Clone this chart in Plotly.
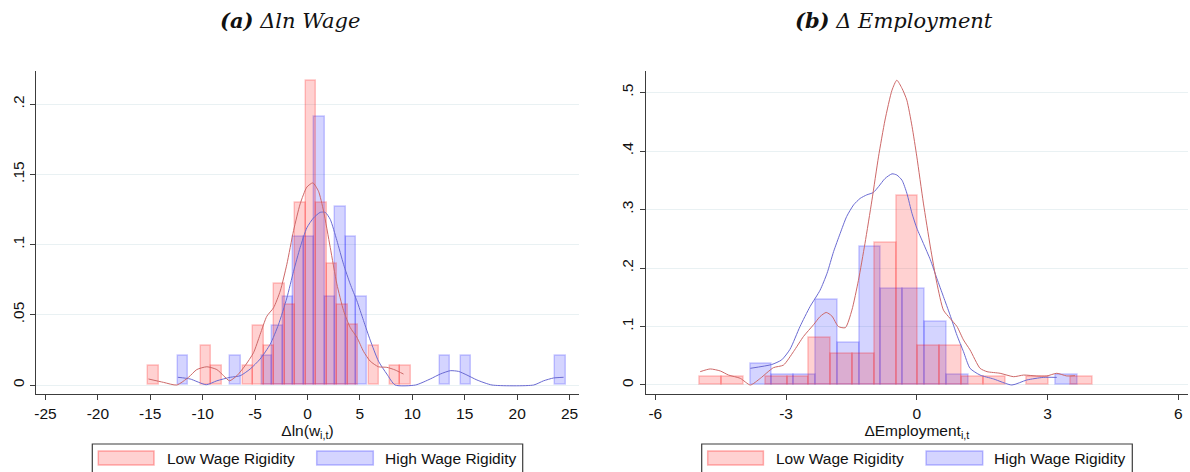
import plotly.graph_objects as go

# ---------------- data ----------------
# Panel (a): change in log wage, histogram bins of width 1
wage_bin_width = 1.0
wage_low_centers = [-14.67, -9.67, -8.67, -5.67, -4.67, -3.67, -2.67, -1.67, -0.67,
                    0.33, 1.33, 2.33, 3.33, 4.33, 6.33, 8.33, 9.33]
wage_low_heights = [0.0135, 0.028, 0.0135, 0.0135, 0.0423, 0.028, 0.072, 0.057, 0.1296,
                    0.2168, 0.1296, 0.0862, 0.057, 0.0427, 0.028, 0.0135, 0.0135]
wage_high_centers = [-11.87, -6.87, -3.87, -2.87, -1.87, -0.87, 0.13, 1.13, 2.13,
                     3.13, 4.13, 5.13, 13.13, 15.13, 24.13]
wage_high_heights = [0.021, 0.021, 0.021, 0.042, 0.063, 0.106, 0.106, 0.191, 0.063,
                     0.127, 0.106, 0.063, 0.021, 0.021, 0.021]

# kernel density curves, panel (a)
wage_low_kde_x = [-15.17, -13.74, -12.47, -11.35, -10.56, -9.6, -8.65, -8.0, -7.44, -6.74,
                  -5.95, -5.15, -4.52, -3.88, -3.24, -2.6, -1.97, -1.33, -0.7, -0.06,
                  0.51, 1.05, 1.53, 2.17, 2.8, 3.44, 4.07, 4.71, 5.34, 5.98,
                  6.77, 7.57, 8.36, 9.16]
wage_low_kde_y = [0.0043, 0.0019, 0.0, 0.0055, 0.011, 0.013, 0.011, 0.0066, 0.003, 0.0066,
                  0.0138, 0.023, 0.036, 0.049, 0.055, 0.067, 0.086, 0.11, 0.129, 0.141,
                  0.144, 0.138, 0.124, 0.098, 0.072, 0.053, 0.041, 0.034, 0.024, 0.017,
                  0.013, 0.0126, 0.0107, 0.0078]
wage_high_kde_x = [-12.37, -11.19, -9.66, -8.65, -7.37, -6.42, -5.47, -4.52, -3.56, -2.77,
                   -1.97, -1.33, -0.7, -0.06, 0.57, 1.21, 1.69, 2.17, 2.8, 3.44,
                   4.07, 4.71, 5.34, 5.98, 6.77, 7.57, 8.36, 10.3, 11.71, 12.66,
                   13.62, 14.41, 15.21, 16.16, 17.6, 21.57, 22.52, 23.47, 24.43]
wage_high_kde_y = [0.0055, 0.0043, 0.0002, 0.003, 0.0055, 0.0066, 0.0114, 0.0185, 0.029, 0.043,
                   0.062, 0.081, 0.098, 0.112, 0.119, 0.123, 0.123, 0.118, 0.103, 0.086,
                   0.072, 0.06, 0.046, 0.032, 0.017, 0.0078, 0.0, 0.0, 0.0043, 0.0078,
                   0.0102, 0.0097, 0.0071, 0.0036, 0.0, 0.0, 0.003, 0.005, 0.0055]

# Panel (b): change in employment, histogram bins of width 0.5
emp_bin_width = 0.5
emp_low_centers = [-4.72, -4.22, -3.22, -2.72, -2.22, -1.72, -1.22, -0.72, -0.22,
                   0.28, 0.78, 1.28, 1.78, 2.78, 3.78]
emp_low_heights = [0.0135, 0.0135, 0.0135, 0.0135, 0.081, 0.054, 0.054, 0.243, 0.324,
                   0.0676, 0.0676, 0.0135, 0.0135, 0.0135, 0.0135]
emp_high_centers = [-3.57, -3.07, -2.57, -2.07, -1.57, -1.07, -0.57, -0.07, 0.43, 0.93, 3.43]
emp_high_heights = [0.0364, 0.0182, 0.0182, 0.145, 0.0727, 0.236, 0.164, 0.164, 0.109,
                    0.0182, 0.0182]

emp_low_kde_x = [-4.97, -4.74, -4.51, -4.32, -4.05, -3.82, -3.59, -3.29, -3.06, -2.83,
                 -2.6, -2.37, -2.22, -2.08, -1.95, -1.8, -1.64, -1.49, -1.34, -1.19,
                 -1.03, -0.88, -0.73, -0.57, -0.46, -0.34, -0.23, -0.11, 0.0, 0.15,
                 0.31, 0.46, 0.61, 0.76, 0.92, 1.07, 1.22, 1.45, 1.61, 1.91,
                 2.22, 2.45, 2.75, 2.98, 3.21, 3.44, 3.63]
emp_low_kde_y = [0.0228, 0.0274, 0.024, 0.017, 0.0114, 0.0, 0.0114, 0.0296, 0.034, 0.057,
                 0.083, 0.103, 0.117, 0.124, 0.118, 0.1, 0.098, 0.128, 0.179, 0.242,
                 0.316, 0.39, 0.453, 0.504, 0.521, 0.507, 0.487, 0.442, 0.39, 0.311,
                 0.236, 0.174, 0.128, 0.114, 0.1, 0.077, 0.06, 0.0285, 0.0228, 0.02,
                 0.0142, 0.017, 0.0154, 0.0154, 0.02, 0.0154, 0.016]
emp_high_kde_x = [-3.82, -3.33, -3.1, -2.91, -2.68, -2.45, -2.22, -2.06, -1.91, -1.76,
                  -1.61, -1.45, -1.3, -1.15, -1.0, -0.88, -0.73, -0.57, -0.46, -0.34,
                  -0.23, -0.11, 0.0, 0.15, 0.31, 0.46, 0.61, 0.76, 0.92, 1.07,
                  1.22, 1.45, 1.76, 2.18, 2.52, 2.9, 3.21]
emp_high_kde_y = [0.0285, 0.035, 0.043, 0.061, 0.1, 0.134, 0.162, 0.191, 0.228, 0.259,
                  0.288, 0.308, 0.319, 0.325, 0.329, 0.339, 0.353, 0.361, 0.359, 0.35,
                  0.328, 0.293, 0.268, 0.242, 0.214, 0.182, 0.151, 0.12, 0.085, 0.057,
                  0.0285, 0.017, 0.0103, 0.0, 0.0085, 0.013, 0.013]

wage_xticks = [-25, -20, -15, -10, -5, 0, 5, 10, 15, 20, 25]
wage_yticks = [0, 0.05, 0.1, 0.15, 0.2]
wage_ytext = ["0", ".05", ".1", ".15", ".2"]
emp_xticks = [-6, -3, 0, 3, 6]
emp_yticks = [0, 0.1, 0.2, 0.3, 0.4, 0.5]
emp_ytext = ["0", ".1", ".2", ".3", ".4", ".5"]

legend_labels = ["Low Wage Rigidity", "High Wage Rigidity"]

# ---------------- styling ----------------
W, H = 1190, 472
RED_FILL = "rgba(255,0,0,0.18)"
RED_EDGE = "rgba(255,0,0,0.22)"
BLUE_FILL = "rgba(0,0,255,0.17)"
BLUE_EDGE = "rgba(0,0,255,0.20)"
RED_LINE = "#cd6868"
BLUE_LINE = "#6a6ad2"
AXIS_COL = "#3c3c3c"
GRID_COL = "#e9f1f3"
SANS = "Liberation Sans, Arial, sans-serif"


def fx(p):
    return p / W


def fy(p):
    return 1 - p / H


fig = go.Figure()


def add_panel(xa, ya, width, lo_c, lo_h, hi_c, hi_h, lo_kx, lo_ky, hi_kx, hi_ky):
    fig.add_trace(go.Bar(x=hi_c, y=hi_h, width=width, xaxis=xa, yaxis=ya,
                         marker=dict(color=BLUE_FILL, line=dict(color=BLUE_EDGE, width=1.5)),
                         showlegend=False, hoverinfo="skip"))
    fig.add_trace(go.Bar(x=lo_c, y=lo_h, width=width, xaxis=xa, yaxis=ya,
                         marker=dict(color=RED_FILL, line=dict(color=RED_EDGE, width=1.5)),
                         showlegend=False, hoverinfo="skip"))
    fig.add_trace(go.Scatter(x=hi_kx, y=hi_ky, mode="lines", xaxis=xa, yaxis=ya,
                             line=dict(color=BLUE_LINE, width=1, shape="spline", smoothing=0.6),
                             showlegend=False, hoverinfo="skip"))
    fig.add_trace(go.Scatter(x=lo_kx, y=lo_ky, mode="lines", xaxis=xa, yaxis=ya,
                             line=dict(color=RED_LINE, width=1, shape="spline", smoothing=0.6),
                             showlegend=False, hoverinfo="skip"))


add_panel("x", "y", wage_bin_width, wage_low_centers, wage_low_heights,
          wage_high_centers, wage_high_heights,
          wage_low_kde_x, wage_low_kde_y, wage_high_kde_x, wage_high_kde_y)
add_panel("x2", "y2", emp_bin_width, emp_low_centers, emp_low_heights,
          emp_high_centers, emp_high_heights,
          emp_low_kde_x, emp_low_kde_y, emp_high_kde_x, emp_high_kde_y)

ydom = [fy(394), fy(70.7)]
xbase = dict(showgrid=False, zeroline=False, showline=True, linecolor=AXIS_COL, linewidth=1.3,
             ticks="outside", ticklen=5, tickwidth=1.2, tickcolor=AXIS_COL,
             tickfont=dict(family=SANS, size=15.5, color="#111"), automargin=False,
             title=dict(font=dict(family=SANS, size=15.5, color="#111"), standoff=0),
             fixedrange=True)
ybase = dict(showgrid=True, gridcolor=GRID_COL, gridwidth=1, zeroline=False, showline=True,
             linecolor=AXIS_COL, linewidth=1.3, ticks="outside", ticklen=5, tickwidth=1.2,
             tickcolor=AXIS_COL, tickangle=-90,
             tickfont=dict(family=SANS, size=15.5, color="#111"), automargin=False,
             fixedrange=True, domain=ydom)

fig.update_layout(
    width=W, height=H,
    margin=dict(l=0, r=0, t=0, b=0),
    paper_bgcolor="white", plot_bgcolor="white",
    barmode="overlay", bargap=0,
    xaxis=dict(xbase, domain=[fx(36), fx(579)], range=[-25.9, 25.9],
               tickvals=wage_xticks, ticktext=[str(v) for v in wage_xticks],
               title=dict(xbase["title"], text="Δln(w<sub>i,t</sub>)"), anchor="y"),
    yaxis=dict(ybase, range=[-0.0064, 0.2239], tickvals=wage_yticks, ticktext=wage_ytext,
               anchor="x"),
    xaxis2=dict(xbase, domain=[fx(645.7), fx(1188)], range=[-6.22, 6.22],
                tickvals=emp_xticks, ticktext=[str(v) for v in emp_xticks],
                title=dict(xbase["title"], text="ΔEmployment<sub>i,t</sub>"), anchor="y2"),
    yaxis2=dict(ybase, range=[-0.0154, 0.5373], tickvals=emp_yticks, ticktext=emp_ytext,
                anchor="x2"),
    showlegend=False,
)

# panel titles
TITLE_FONT = dict(family="DejaVu Serif, Liberation Serif, serif", size=21, color="#111")
for cx, tag, label in [(290, "(a)", "Δln Wage"), (894, "(b)", "Δ Employment")]:
    fig.add_annotation(x=fx(cx), y=fy(20), xref="paper", yref="paper", showarrow=False,
                       xanchor="center", yanchor="middle",
                       text=f"<b><i>{tag}</i></b><i> {label}</i>", font=TITLE_FONT)

# legends drawn beneath each panel
LEG_FONT = dict(family=SANS, size=15.5, color="#111")
for left, right in [(92.3, 522.7), (701.7, 1132.3)]:
    fig.add_shape(type="rect", xref="paper", yref="paper",
                  x0=fx(left), x1=fx(right), y0=fy(480), y1=fy(444),
                  line=dict(color=AXIS_COL, width=1.2), fillcolor="white", layer="above")
    off = left - 92.3
    entries = [(98.3 + off, 154.0 + off, 165.0 + off, RED_FILL, "rgba(255,0,0,0.3)", legend_labels[0]),
               (316.7 + off, 373.3 + off, 382.7 + off, BLUE_FILL, "rgba(0,0,255,0.25)", legend_labels[1])]
    for s0, s1, tx, fill, edge, lab in entries:
        fig.add_shape(type="rect", xref="paper", yref="paper",
                      x0=fx(s0), x1=fx(s1), y0=fy(465), y1=fy(451),
                      line=dict(color=edge, width=1.5), fillcolor=fill, layer="above")
        fig.add_annotation(x=fx(tx), y=fy(458.5), xref="paper", yref="paper", showarrow=False,
                           xanchor="left", yanchor="middle", text=lab, font=LEG_FONT)

fig.write_html("out.html")
